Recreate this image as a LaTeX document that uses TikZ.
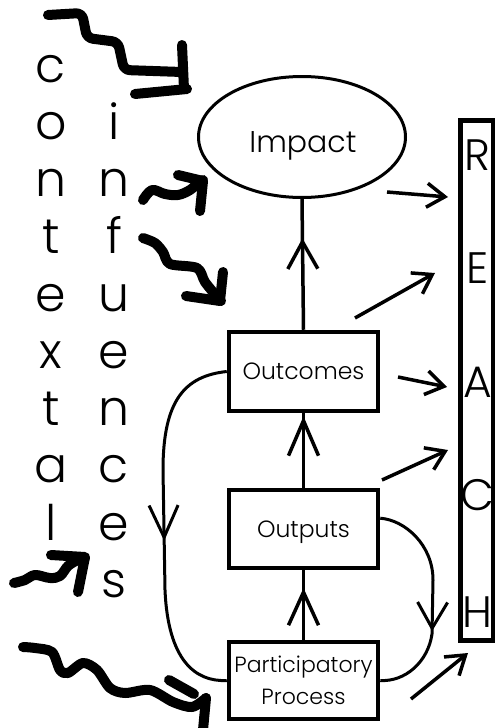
\documentclass[tikz,border=0pt]{standalone}
\usepackage{fontspec}
\setmainfont{Poppins Light}
\usetikzlibrary{shapes.geometric,arrows.meta,decorations.markings}

\begin{document}
\begin{tikzpicture}[x=1pt,y=-1pt,
  box/.style={draw, line width=4.5pt, minimum width=149pt, inner sep=0pt,
    align=center, text depth=0pt, font=\fontsize{23.5}{32}\selectfont},
  link/.style={line width=3.5pt},
  feedback/.style={line width=3pt},
  reacharrow/.style={line width=3.5pt, -{Straight Barb[length=18pt,width=24pt]}},
  squiggle/.style={line width=10pt, line join=round, line cap=round},
  barb/.style={line width=10pt, line join=round, line cap=round},
  midtip/.style 2 args={postaction={decorate,
    decoration={markings, mark=at position #1 with {\arrow{#2}}}}},
  letter/.style={anchor=base, inner sep=0pt, font=\fontsize{49}{49}\selectfont},
  reachletter/.style={anchor=base, inner sep=0pt, font=\fontsize{44}{44}\selectfont},
]
\useasboundingbox (0,0) rectangle (497,728);
\fill[white] (0,0) rectangle (497,728);

% vertical words on the left
\foreach \ch [count=\k] in {c,o,n,t,e,x,t,a,l}
  \node[letter] (ctx\k) at (51, {82+57.25*(\k-1)}) {\ch};
\foreach \ch [count=\k] in {i,n,f,u,e,n,c,e,s}
  \node[letter] (inf\k) at (114, {139.25+57.25*(\k-1)}) {\ch};

% main chain
\node[draw, ellipse, line width=3pt, minimum width=207pt, minimum height=121pt,
  inner sep=0pt] (impact) at (302,137) {};
\node[inner sep=0pt, font=\fontsize{30}{30}\selectfont] (impactlabel) at (303,146) {Impact};
\node[box, minimum height=79pt] (outcomes) at (303.5,371.5) {Outcomes};
\node[box, minimum height=78pt] (outputs) at (303.5,529) {Outputs};
\node[box, minimum height=77pt, font=\fontsize{22}{32}\selectfont] (process) at (303.5,680.5) {Participatory\\Process};

% reach column
\node[draw, line width=4.5pt, minimum width=32.5pt, minimum height=520pt,
  inner sep=0pt] (reach) at (476.75,380.5) {};
\foreach \ch/\yb [count=\k] in {R/170,E/283,A/397,C/510,H/627}
  \node[reachletter] (reach\k) at (477.5,\yb) {\ch};

% upward links
\draw[link, midtip={0.70}{Straight Barb[length=27pt,width=30pt]}] (outcomes.north) -- (impact.south);
\draw[link, midtip={0.96}{Straight Barb[length=35pt,width=30pt]}] (outputs.north) -- (outcomes.south);
\draw[link, midtip={0.745}{Straight Barb[length=33pt,width=30pt]}] (process.north) -- (outputs.south);

% feedback loops
\draw[feedback, midtip={203pt}{Straight Barb[length=32pt,width=29pt]}]
  (outcomes.west) .. controls (185,376) and (163,400) .. (163,470)
  -- (165,590) .. controls (168,660) and (195,682) .. (process.west);
\draw[feedback, midtip={140pt}{Straight Barb[length=26pt,width=30pt]}]
  (outputs.8) .. controls (405,520) and (433,545) .. (433,580)
  -- (432,634) .. controls (428,662) and (405,682) .. (process.east);

% arrows into the reach column
\coordinate (ra) at (387,192);  \coordinate (ta) at (448,197);
\coordinate (rb) at (355,318);  \coordinate (tb) at (435,273);
\coordinate (rc) at (398,377);  \coordinate (tc) at (447,387);
\coordinate (rd) at (382,480);  \coordinate (td) at (448,450);
\coordinate (re) at (411,699);  \coordinate (te) at (468,653);
\draw[reacharrow] (ra) -- (ta);
\draw[reacharrow] (rb) -- (tb);
\draw[reacharrow] (rc) -- (tc);
\draw[reacharrow] (rd) -- (td);
\draw[reacharrow] (re) -- (te);

% contextual influence arrows
\draw[squiggle, rounded corners=6pt] (48,15) -- (82,13) -- (87,38) -- (118,42) -- (124,70) -- (182,72);
\draw[barb] (182,45) -- (184,89);
\draw[barb] (135,94) -- (187,89);

\draw[squiggle] plot[smooth, tension=0.6] coordinates
  {(143,200) (152,190) (165,194) (178,195) (190,190) (198,183) (203,180)};
\draw[barb] (178,175) -- (203,181) -- (200,211);

\draw[squiggle] plot[smooth, tension=0.5] coordinates
  {(143,238) (155,243) (163,252) (170,264) (197,268) (205,282) (218,298) (221,301)};
\draw[barb] (186,296) -- (220,301) -- (223,272);

\draw[squiggle] plot[smooth, tension=0.6] coordinates
  {(14,583) (25,580) (35,575) (50,578) (60,576) (68,566) (78,560) (85,558)};
\draw[barb] (51,555) -- (85,557) -- (78,592);

\draw[squiggle] plot[smooth, tension=0.5] coordinates
  {(23,647) (35,648) (52,652) (60,670) (68,673) (83,663) (97,670) (110,688)
   (125,693) (150,690) (173,702) (192,707) (206,698)};
\draw[barb] (169,680) -- (194,694);
\draw[barb] (206,698) -- (203,730);
\end{tikzpicture}
\end{document}
